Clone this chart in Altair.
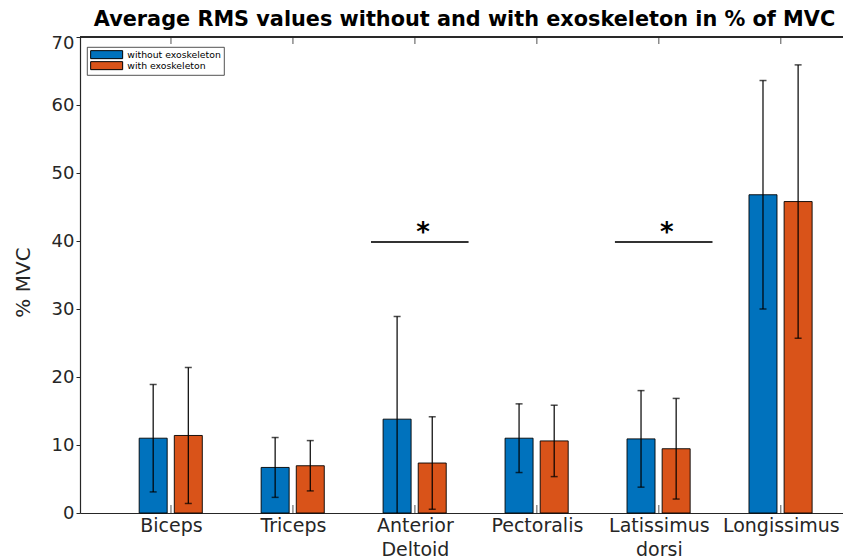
import json
import altair as alt
import pandas as pd

# ---------------- data ----------------
categories = ["Biceps", "Triceps", "Anterior Deltoid", "Pectoralis", "Latissimus dorsi", "Longissimus"]
label_lines = [["Biceps"], ["Triceps"], ["Anterior", "Deltoid"], ["Pectoralis"], ["Latissimus", "dorsi"], ["Longissimus"]]
series = ["without exoskeleton", "with exoskeleton"]
mean_without = [11.0, 6.7, 13.8, 11.0, 10.9, 46.8]
sd_without = [7.9, 4.4, 15.1, 5.05, 7.1, 16.8]
mean_with = [11.4, 6.95, 7.35, 10.6, 9.45, 45.8]
sd_with = [10.0, 3.7, 6.8, 5.25, 7.4, 20.1]
sig_categories = ["Anterior Deltoid", "Latissimus dorsi"]
sig_level = 39.85
y_ticks = [0, 10, 20, 30, 40, 50, 60, 70]

# ---------------- style ----------------
colors = ["#0072BD", "#D95319"]
offsets = [-0.146, 0.142]
FONT = "DejaVu Sans"
AX = "#262626"
W, H = 763, 476
XDOM = [0.254, 6.51]

rows = []
for i, c in enumerate(categories):
    for s, m, sd, off in ((series[0], mean_without[i], sd_without[i], offsets[0]),
                          (series[1], mean_with[i], sd_with[i], offsets[1])):
        rows.append({"category": c, "idx": i + 1, "series": s, "pos": i + 1 + off,
                     "mean": m, "lo": m - sd, "hi": m + sd})
df = pd.DataFrame(rows)
tick_df = pd.DataFrame({"idx": list(range(1, len(categories) + 1))})
sig_df = pd.DataFrame({
    "x1": [categories.index(c) + 1 - 0.36 for c in sig_categories],
    "x2": [categories.index(c) + 1 + 0.44 for c in sig_categories],
    "xs": [categories.index(c) + 1 + 0.066 for c in sig_categories],
    "y": [sig_level] * len(sig_categories),
})

xscale = alt.Scale(domain=XDOM, nice=False, zero=False, padding=0)
yscale = alt.Scale(domain=[0, 70], nice=False, zero=False, padding=0)

label_expr = json.dumps(label_lines) + "[datum.value - 1]"

x_axis = alt.Axis(values=list(range(1, len(categories) + 1)), labelExpr=label_expr,
                  title=None, ticks=False, grid=False, domainColor=AX, domainWidth=1.2,
                  labelFont=FONT, labelFontSize=19, labelColor=AX, labelPadding=3,
                  labelLineHeight=24, labelBaseline="top")
y_axis = alt.Axis(values=y_ticks, title="% MVC", grid=False, tickSize=4, tickColor=AX,
                  domainColor=AX, domainWidth=1.2, labelFont=FONT, labelFontSize=18,
                  labelColor=AX, labelPadding=2,
                  labelOffset=alt.condition("datum.value == 70", alt.value(6), alt.value(0)),
                  titleFont=FONT, titleFontSize=20, titleFontWeight="normal", titleColor=AX,
                  titlePadding=18, titleY=245)

bars = alt.Chart(df).mark_bar(size=28, stroke="#000000", strokeWidth=0.9).encode(
    x=alt.X("pos:Q", scale=xscale, axis=x_axis),
    y=alt.Y("mean:Q", scale=yscale, axis=y_axis),
    color=alt.Color("series:N", scale=alt.Scale(domain=series, range=colors),
                    legend=alt.Legend(orient="none", legendX=7, legendY=10, title=None,
                                      symbolType="M-4,-1H4V1H-4Z", symbolSize=64,
                                      symbolOffset=12,
                                      symbolStrokeColor="#000000", symbolStrokeWidth=1,
                                      symbolOpacity=1, labelFont=FONT, labelFontSize=9.3,
                                      labelColor="#000000", labelOffset=16, rowPadding=-2,
                                      padding=3, strokeColor=AX,
                                      fillColor="#ffffff")),
)

err = alt.Chart(df).mark_rule(color="#000000", strokeWidth=1.2, clip=True).encode(
    x=alt.X("pos:Q", scale=xscale, axis=x_axis),
    y=alt.Y("lo:Q", scale=yscale, axis=y_axis),
    y2="hi:Q",
)
cap_hi = alt.Chart(df).mark_tick(color="#000000", size=7, thickness=1.5, orient="horizontal", clip=True).encode(
    x=alt.X("pos:Q", scale=xscale, axis=x_axis),
    y=alt.Y("hi:Q", scale=yscale, axis=y_axis),
)
cap_lo = alt.Chart(df).mark_tick(color="#000000", size=7, thickness=1.5, orient="horizontal", clip=True).encode(
    x=alt.X("pos:Q", scale=xscale, axis=x_axis),
    y=alt.Y("lo:Q", scale=yscale, axis=y_axis),
)

ticks_bottom = alt.Chart(tick_df).mark_rule(color=AX, strokeWidth=0.8).encode(
    x=alt.X("idx:Q", scale=xscale, axis=x_axis),
    y=alt.value(H), y2=alt.value(H - 8),
)
ticks_top = alt.Chart(tick_df).mark_rule(color=AX, strokeWidth=0.8).encode(
    x=alt.X("idx:Q", scale=xscale, axis=x_axis),
    y=alt.value(0), y2=alt.value(7),
)
top_frame = alt.Chart(tick_df).mark_rule(color=AX, strokeWidth=1.2).encode(
    x=alt.value(0), x2=alt.value(W), y=alt.value(0),
)

sig_lines = alt.Chart(sig_df).mark_rule(color="#333333", strokeWidth=2.2).encode(
    x=alt.X("x1:Q", scale=xscale, axis=x_axis),
    x2="x2:Q",
    y=alt.Y("y:Q", scale=yscale, axis=y_axis),
)
sig_star = alt.Chart(sig_df).mark_text(text="*", font=FONT, fontWeight="bold", fontSize=26,
                                       color="#000000", baseline="alphabetic", dy=-1).encode(
    x=alt.X("xs:Q", scale=xscale, axis=x_axis),
    y=alt.Y("y:Q", scale=yscale, axis=y_axis),
)

chart = alt.layer(bars, err, cap_hi, cap_lo, ticks_bottom, ticks_top, top_frame, sig_lines, sig_star).properties(
    width=W, height=H,
    title=alt.TitleParams("Average RMS values without and with exoskeleton in % of MVC",
                          font=FONT, fontSize=20.8, fontWeight="bold", color="#000000",
                          anchor="middle", dx=3, offset=3),
    autosize=alt.AutoSizeParams(type="none"),
    padding={"left": 72, "top": 29, "right": 0, "bottom": 45},
).configure_view(stroke=None).configure_legend(strokeWidth=0.8)

chart.save("out.html", embed_options={"renderer": "svg", "actions": False})
